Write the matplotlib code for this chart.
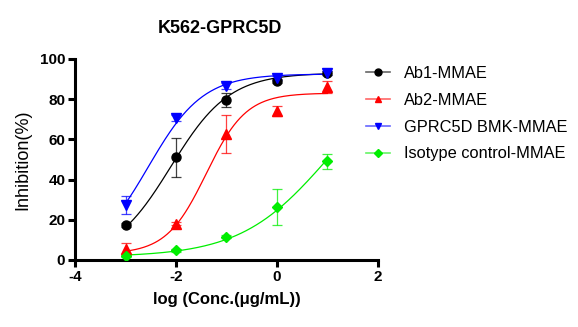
import numpy as np
import matplotlib
matplotlib.use("Agg")
import matplotlib.pyplot as plt

plt.rcParams['font.family'] = ['Liberation Sans', 'DejaVu Sans']
plt.rcParams['axes.unicode_minus'] = False

# Measured data: log concentration vs. mean inhibition (%) and SD
log_conc = [-3, -2, -1, 0, 1]
series_names = ["Ab1-MMAE", "Ab2-MMAE", "GPRC5D BMK-MMAE", "Isotype control-MMAE"]
ab1_mean = [17.5, 51.0, 79.5, 89.0, 93.0]
ab1_sd = [1.0, 9.5, 3.5, 1.2, 0.8]
ab2_mean = [5.5, 18.0, 62.5, 74.0, 86.0]
ab2_sd = [3.0, 0.8, 9.5, 2.5, 3.0]
bmk_mean = [27.5, 70.5, 86.5, 90.5, 93.0]
bmk_sd = [4.5, 1.5, 1.5, 0.8, 0.8]
iso_mean = [2.0, 4.8, 11.5, 26.5, 49.0]
iso_sd = [0.6, 0.8, 0.8, 9.0, 3.8]

# Four-parameter logistic fit parameters: bottom, top, logEC50, hill slope
ab1_fit = (0.0, 93.0, -2.1, 0.75)
ab2_fit = (3.0, 83.0, -1.4, 1.1)
bmk_fit = (0.0, 92.5, -2.55, 0.8)
iso_fit = (1.5, 100.0, 1.02, 0.5)


def four_pl(x, bottom, top, logec50, hill):
    return bottom + (top - bottom) / (1 + 10 ** ((logec50 - x) * hill))


fig = plt.figure(figsize=(5.78, 3.27), dpi=100)
ax = fig.add_axes([0.1298, 0.2049, 0.524, 0.615])

styles = [
    ("black", "o", ab1_mean, ab1_sd, ab1_fit, 6.5, 5.0),
    ("#ff0000", "^", ab2_mean, ab2_sd, ab2_fit, 6.5, 5.0),
    ("#0000ff", "v", bmk_mean, bmk_sd, bmk_fit, 6.5, 5.0),
    ("#00ee00", "D", iso_mean, iso_sd, iso_fit, 4.8, 3.6),
]

xs = np.linspace(-3, 1, 200)
handles = []
for name, (col, mk, mean, sd, fit, ms, ms_leg) in zip(series_names, styles):
    ax.plot(xs, four_pl(xs, *fit), color=col, lw=0.9, zorder=2)
    ax.errorbar(log_conc, mean, yerr=sd, fmt="none", ecolor=col, elinewidth=0.9,
                capsize=3.5, capthick=0.9, alpha=0.75, zorder=3)
    ax.plot(log_conc, mean, linestyle="none", marker=mk, color=col, ms=ms, zorder=4)
    line_col = matplotlib.colors.to_rgba(col, 0.6)
    h, = ax.plot([], [], color=line_col, marker=mk, ms=ms_leg, lw=1.2,
                 markerfacecolor=col, markeredgecolor=col)
    handles.append(h)

ax.set_xlim(-4, 2)
ax.set_ylim(0, 100)
ax.set_xticks([-4, -2, 0, 2])
ax.set_yticks([0, 20, 40, 60, 80, 100])
for s in ["top", "right"]:
    ax.spines[s].set_visible(False)
for s in ["left", "bottom"]:
    ax.spines[s].set_linewidth(2.2)
ax.tick_params(axis="both", direction="out", width=2.2, length=5, labelsize=11, pad=2)
for lab in ax.get_xticklabels() + ax.get_yticklabels():
    lab.set_fontweight("bold")

ax.set_xlabel("log (Conc.(μg/mL))", fontsize=12, fontweight="bold", labelpad=6)
ax.set_ylabel("Inhibition(%)", fontsize=13, labelpad=6)
ax.set_title("K562-GPRC5D", fontsize=13, fontweight="bold", pad=19, x=0.48)

fig.legend(handles, series_names, loc="upper left",
           bbox_to_anchor=(366 / 578, (327 - 66) / 327),
           frameon=False, fontsize=11.8, borderpad=0, borderaxespad=0,
           handlelength=1.45, labelspacing=0.72, handletextpad=0.85)

fig.savefig("out.png", dpi=100)
